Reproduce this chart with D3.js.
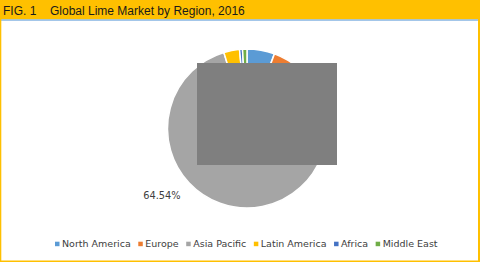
<!DOCTYPE html>
<html><head><meta charset="utf-8">
<script src="https://cdn.jsdelivr.net/npm/d3@7"></script>
<style>html,body{margin:0;padding:0;background:#fff;}svg{display:block;}</style>
</head><body>
<svg id="c" width="480" height="262"></svg>
<script>
const categories = ["North America","Europe","Asia Pacific","Latin America","Africa","Middle East"];
const shares = [5.6, 25.16, 64.54, 3.2, 0.6, 0.9];
const colors = ["#5B9BD5","#ED7D31","#A5A5A5","#FFC000","#4472C4","#70AD47"];
const labelText = ["","","64.54%","","",""];
const title = "Global Lime Market by Region, 2016";
const figLabel = "FIG. 1";

const svg = d3.select("#c");
const W = 480, H = 262;

// frame
svg.append("rect").attr("x",0).attr("y",0).attr("width",W).attr("height",H).attr("fill","#fff");
svg.append("rect").attr("x",0).attr("y",0).attr("width",W).attr("height",19.5).attr("fill","#FFC000");
svg.append("rect").attr("x",1).attr("y",19.3).attr("width",W-3).attr("height",1.5).attr("fill","#8DB9E4");
svg.append("rect").attr("x",0).attr("y",0).attr("width",1.3).attr("height",H).attr("fill","#FFC000");
svg.append("rect").attr("x",W-2).attr("y",0).attr("width",2).attr("height",H).attr("fill","#FFC000");
svg.append("rect").attr("x",0).attr("y",H-1.5).attr("width",W).attr("height",1.5).attr("fill","#FFC000");

svg.append("text").attr("x",3).attr("y",14.5).attr("font-family","Liberation Sans, Arial, sans-serif")
  .attr("font-size",12).attr("fill","#1a1a1a").text(figLabel);
svg.append("text").attr("x",50).attr("y",14.5).attr("font-family","Liberation Sans, Arial, sans-serif")
  .attr("font-size",12).attr("fill","#1a1a1a").text(title);

// pie
const cx = 247, cy = 128.5, r = 79.5;
const data = categories.map((c,i)=>({cat:c, v:shares[i], color:colors[i], label:labelText[i]}));
const pie = d3.pie().value(d=>d.v).sort(null);
const arcs = pie(data);
const arc = d3.arc().innerRadius(0).outerRadius(r);
const g = svg.append("g").attr("transform",`translate(${cx},${cy})`);
g.selectAll("path").data(arcs).join("path")
  .attr("d",arc).attr("fill",d=>d.data.color)
  .attr("stroke","#fff").attr("stroke-width",1.5).attr("stroke-linejoin","round");

const labelArc = d3.arc().innerRadius(91).outerRadius(91);
g.selectAll("text.lbl").data(arcs.filter(d=>d.data.label)).join("text")
  .attr("class","lbl")
  .attr("transform",d=>{const p=labelArc.centroid(d); return `translate(${p[0]},${p[1]+5})`;})
  .attr("text-anchor","end").attr("dy","0.35em")
  .attr("font-family","DejaVu Sans, Verdana, sans-serif").attr("font-size",9.8)
  .attr("fill","#404040").text(d=>d.data.label);

// redaction block
svg.append("rect").attr("x",197).attr("y",63).attr("width",140).attr("height",102).attr("fill","#7F7F7F");

// legend
const lg = svg.append("g").attr("transform","translate(0,244)");
let x = 55;
const items = lg.selectAll("g").data(data).join("g");
items.each(function(d){
  const it = d3.select(this);
  it.append("rect").attr("x",0).attr("y",-2.3).attr("width",4.5).attr("height",4.5).attr("fill",d.color);
  const t = it.append("text").attr("x",7).attr("y",0).attr("dy","0.35em")
    .attr("font-family","DejaVu Sans, Verdana, sans-serif").attr("font-size",9.5)
    .attr("fill","#404040").text(d.cat);
  const w = t.node().getComputedTextLength();
  it.attr("transform",`translate(${x},0)`);
  x += 7 + w + 7.5;
});
</script>
</body></html>
